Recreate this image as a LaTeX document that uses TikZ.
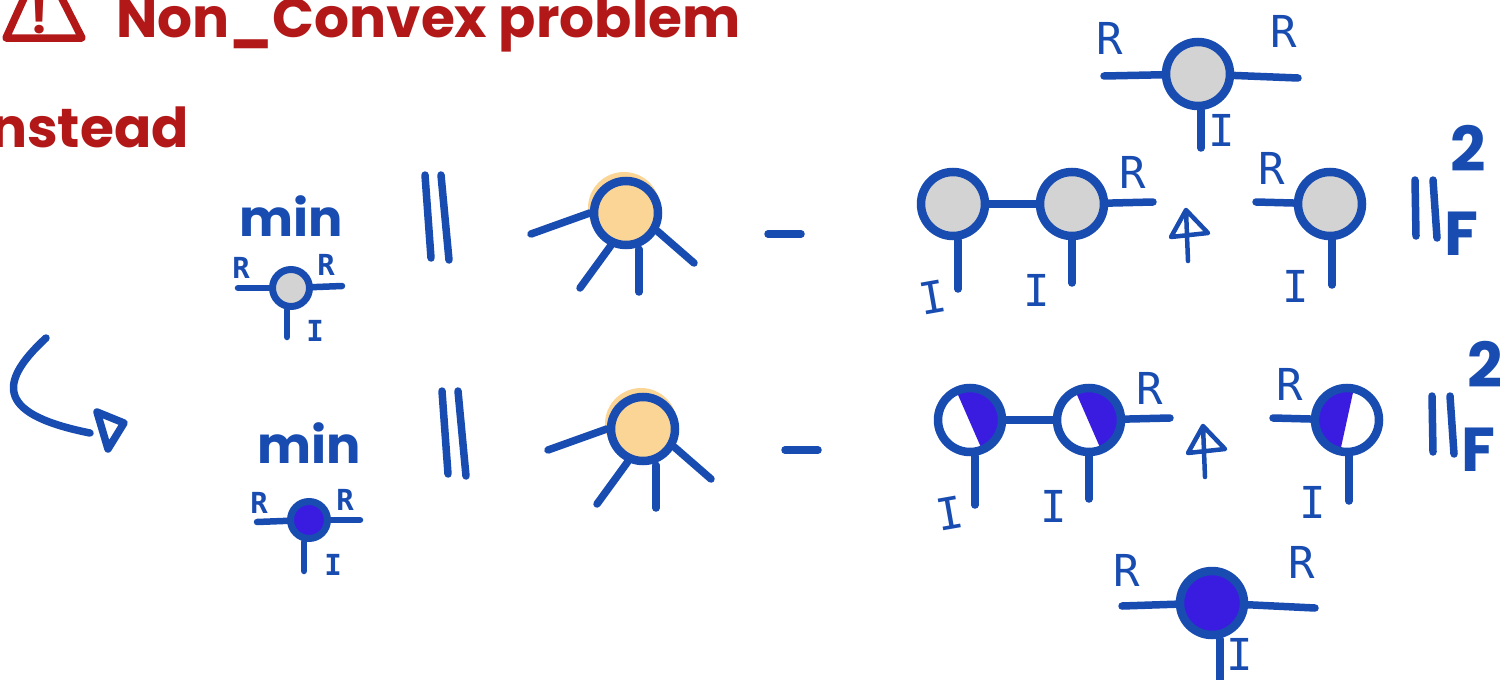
\documentclass[tikz,border=0pt]{standalone}
\usepackage{fontspec}
\setmainfont{Poppins}
\newfontfamily\penfont{DejaVu Sans Mono}
\usetikzlibrary{positioning}
\definecolor{penblue}{HTML}{184CB0}
\definecolor{penred}{HTML}{B21818}
\definecolor{blobcolor}{HTML}{FBD596}
\definecolor{inkcolor}{HTML}{3A1CE0}
\definecolor{tensorgrey}{HTML}{D3D3D3}

\begin{document}
\begin{tikzpicture}[
    x=1pt, y=-1pt,
    tensor/.style={circle, draw=penblue, line width=8.5pt, minimum size=64pt, inner sep=0pt, fill=white},
    smalltensor/.style={tensor, line width=7pt, minimum size=37pt},
    slantR/.style={path picture={\fill[inkcolor, shift={(path picture bounding box.center)}] (-15,-32) -- (13,32) -- (40,32) -- (40,-32) -- cycle;}},
    slantL/.style={path picture={\fill[inkcolor, shift={(path picture bounding box.center)}] (7,-32) -- (-7,32) -- (-40,32) -- (-40,-32) -- cycle;}},
    leg/.style={draw=penblue, line width=7.5pt, line cap=round},
    thinleg/.style={draw=penblue, line width=6.5pt, line cap=round},
    pen/.style={draw=penblue, line width=4.5pt, line cap=round, line join=round},
    bigR/.style={text=penblue, inner sep=0pt, font=\penfont\fontsize{44}{44}\selectfont},
    smallR/.style={text=penblue, inner sep=0pt, font=\penfont\bfseries\fontsize{29}{29}\selectfont},
    minlabel/.style={text=penblue, inner sep=0pt, font=\bfseries\fontsize{51}{51}\selectfont},
    normF/.style={text=penblue, inner sep=0pt, font=\bfseries\fontsize{62}{62}\selectfont},
    headline/.style={text=penred, inner sep=0pt, font=\bfseries\fontsize{55}{55}\selectfont}
]
    \useasboundingbox (0,0) rectangle (1500,680);
    \clip (0,0) rectangle (1500,680);

    % Red heading, cut by the page edge
    \draw [penred, line width=7.5pt, line join=round] (30,-15) -- (6,38) -- (82,38) -- (55,-15);
    \node [headline, font=\bfseries\fontsize{46}{46}\selectfont] (warnmark) at (40,17) {!};
    \node [headline, anchor=base west] (heading) at (116,37) {Non\_Convex problem};
    \node [headline, anchor=base west] (instead) at (-10,147) {nstead};

    % Turn arrow
    \coordinate (turnA) at (46,338);
    \coordinate (turnB) at (90,433);
    \draw [leg] (turnA) .. controls (-5,385) and (0,415) .. (turnB);
    \coordinate (tipA) at (97,412);
    \coordinate (tipB) at (124,423);
    \coordinate (tipC) at (108,449);
    \draw [leg, line join=round] (tipA) -- (tipB) -- (tipC) -- cycle;

    % Row 1: grey tensors
    \node [minlabel] (minA) at (291,216) {min};
    \node [smalltensor, fill=tensorgrey] (miniA) at (291,288) {};
    \coordinate (miniAl) at (238,288);
    \coordinate (miniAr) at (342,286);
    \coordinate (miniAd) at (287,337);
    \draw [thinleg] (miniA) -- (miniAl);
    \draw [thinleg] (miniA) -- (miniAr);
    \draw [thinleg] (miniA.south -| miniAd) -- (miniAd);
    \node [smallR] (miniAra) at (241,268) {R};
    \node [smallR] (miniArb) at (326,265) {R};
    \node [smallR] (miniAi) at (315,331) {I};

    \coordinate (barAa) at (425,175);
    \coordinate (barAb) at (431,258);
    \coordinate (barAc) at (441,175);
    \coordinate (barAd) at (449,260);
    \draw [leg] (barAa) -- (barAb);
    \draw [leg] (barAc) -- (barAd);

    \node [circle, fill=blobcolor, minimum size=72pt, inner sep=0pt] (glowA) at (624,208) {};
    \node [tensor, fill=blobcolor] (targetA) at (626,213) {};
    \coordinate (targetAa) at (531,234);
    \coordinate (targetAb) at (580,288);
    \coordinate (targetAc) at (639,292);
    \coordinate (targetAd) at (694,263);
    \draw [leg] (targetA.west) -- (targetAa);
    \draw [leg] (targetA.-115) -- (targetAb);
    \draw [leg] (targetAc) -- (targetA.south -| targetAc);
    \draw [leg] (targetA.-30) -- (targetAd);

    \coordinate (minusAa) at (768,234);
    \coordinate (minusAb) at (801,234);
    \draw [leg] (minusAa) -- (minusAb);

    \node [tensor, fill=tensorgrey] (gA) at (953,204) {};
    \node [tensor, fill=tensorgrey] (gB) at (1072,204) {};
    \node [tensor, fill=tensorgrey] (gC) at (1330,204) {};
    \draw [leg] (gA) -- (gB);
    \coordinate (gAd) at (958,289);
    \coordinate (gBd) at (1072,283);
    \coordinate (gBr) at (1153,202);
    \coordinate (gCl) at (1256,202);
    \coordinate (gCd) at (1332,285);
    \draw [leg] (gA.south -| gAd) -- (gAd);
    \draw [leg] (gB) -- (gBd);
    \draw [leg] (gB) -- (gBr);
    \draw [leg] (gC) -- (gCl);
    \draw [leg] (gC.south -| gCd) -- (gCd);
    \node [bigR, rotate=10] (gAi) at (933,297) {I};
    \node [bigR] (gBi) at (1037,290) {I};
    \node [bigR] (gBR) at (1133,172) {R};
    \node [bigR] (gCR) at (1272,168) {R};
    \node [bigR] (gCi) at (1296,286) {I};

    \coordinate (plusAa) at (1188,261);
    \coordinate (plusAb) at (1186,210);
    \coordinate (plusAc) at (1171,237);
    \coordinate (plusAd) at (1208,233);
    \draw [pen] (plusAa) -- (plusAb) -- (plusAc) -- (plusAd) -- (plusAb);

    \coordinate (normAa) at (1415,180);
    \coordinate (normAb) at (1416,236);
    \coordinate (normAc) at (1433,180);
    \coordinate (normAd) at (1437,238);
    \draw [leg] (normAa) -- (normAb);
    \draw [leg] (normAc) -- (normAd);
    \node [normF] (twoA) at (1468,148) {2};
    \node [normF] (fA) at (1461,234) {F};

    % Top grey tensor
    \node [tensor, fill=tensorgrey] (topG) at (1198,74) {};
    \coordinate (topGl) at (1104,76);
    \coordinate (topGr) at (1298,78);
    \coordinate (topGd) at (1201,148);
    \draw [leg] (topG) -- (topGl);
    \draw [leg] (topG) -- (topGr);
    \draw [leg] (topG.south -| topGd) -- (topGd);
    \node [bigR] (topGa) at (1110,38) {R};
    \node [bigR] (topGb) at (1284,31) {R};
    \node [bigR] (topGi) at (1222,130) {I};

    % Row 2: purple tensors
    \node [minlabel] (minB) at (309,443) {min};
    \node [smalltensor, fill=inkcolor] (miniB) at (309,520) {};
    \coordinate (miniBl) at (257,522);
    \coordinate (miniBr) at (360,520);
    \coordinate (miniBd) at (304,571);
    \draw [thinleg] (miniB) -- (miniBl);
    \draw [thinleg] (miniB) -- (miniBr);
    \draw [thinleg] (miniB.south -| miniBd) -- (miniBd);
    \node [smallR] (miniBra) at (259,503) {R};
    \node [smallR] (miniBrb) at (345,500) {R};
    \node [smallR] (miniBi) at (333,565) {I};

    \coordinate (barBa) at (442,391);
    \coordinate (barBb) at (448,474);
    \coordinate (barBc) at (458,391);
    \coordinate (barBd) at (466,476);
    \draw [leg] (barBa) -- (barBb);
    \draw [leg] (barBc) -- (barBd);

    \node [circle, fill=blobcolor, minimum size=72pt, inner sep=0pt] (glowB) at (641,424) {};
    \node [tensor, fill=blobcolor] (targetB) at (643,429) {};
    \coordinate (targetBa) at (548,450);
    \coordinate (targetBb) at (597,504);
    \coordinate (targetBc) at (656,508);
    \coordinate (targetBd) at (711,479);
    \draw [leg] (targetB.west) -- (targetBa);
    \draw [leg] (targetB.-115) -- (targetBb);
    \draw [leg] (targetBc) -- (targetB.south -| targetBc);
    \draw [leg] (targetB.-30) -- (targetBd);

    \coordinate (minusBa) at (785,450);
    \coordinate (minusBb) at (818,450);
    \draw [leg] (minusBa) -- (minusBb);

    \node [tensor, slantR] (pA) at (970,420) {};
    \node [tensor, slantR] (pB) at (1089,420) {};
    \node [tensor, slantL] (pC) at (1347,420) {};
    \draw [leg] (pA) -- (pB);
    \coordinate (pAd) at (975,505);
    \coordinate (pBd) at (1089,499);
    \coordinate (pBr) at (1170,418);
    \coordinate (pCl) at (1273,418);
    \coordinate (pCd) at (1349,501);
    \draw [leg] (pA.south -| pAd) -- (pAd);
    \draw [leg] (pB) -- (pBd);
    \draw [leg] (pB) -- (pBr);
    \draw [leg] (pC) -- (pCl);
    \draw [leg] (pC.south -| pCd) -- (pCd);
    \node [bigR, rotate=10] (pAi) at (950,513) {I};
    \node [bigR] (pBi) at (1054,506) {I};
    \node [bigR] (pBR) at (1150,388) {R};
    \node [bigR] (pCR) at (1290,384) {R};
    \node [bigR] (pCi) at (1313,502) {I};

    \coordinate (plusBa) at (1205,477);
    \coordinate (plusBb) at (1203,426);
    \coordinate (plusBc) at (1188,453);
    \coordinate (plusBd) at (1225,449);
    \draw [pen] (plusBa) -- (plusBb) -- (plusBc) -- (plusBd) -- (plusBb);

    \coordinate (normBa) at (1432,396);
    \coordinate (normBb) at (1433,452);
    \coordinate (normBc) at (1450,396);
    \coordinate (normBd) at (1454,454);
    \draw [leg] (normBa) -- (normBb);
    \draw [leg] (normBc) -- (normBd);
    \node [normF] (twoB) at (1485,364) {2};
    \node [normF] (fB) at (1478,450) {F};

    % Bottom purple tensor
    \node [tensor, fill=inkcolor] (botP) at (1212,603) {};
    \coordinate (botPl) at (1122,606);
    \coordinate (botPr) at (1315,608);
    \coordinate (botPd) at (1220,682);
    \draw [leg] (botP) -- (botPl);
    \draw [leg] (botP) -- (botPr);
    \draw [leg] (botP.south -| botPd) -- (botPd);
    \node [bigR] (botPa) at (1127,570) {R};
    \node [bigR] (botPb) at (1302,562) {R};
    \node [bigR] (botPi) at (1240,654) {I};

\end{tikzpicture}
\end{document}
